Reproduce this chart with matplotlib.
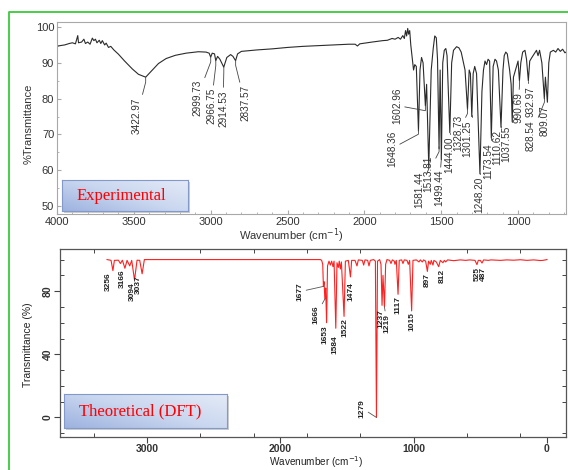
import matplotlib.pyplot as plt
import numpy as np
from matplotlib.lines import Line2D
from matplotlib.patches import Rectangle
from matplotlib.ticker import MultipleLocator, FixedLocator
from matplotlib.colors import LinearSegmentedColormap

plt.rcParams['font.family'] = ['Liberation Sans', 'DejaVu Sans']

# experimental FT-IR trace (cm-1, %T)
exp_wn = [4000, 3980, 3950, 3920, 3900, 3880, 3865, 3860, 3840, 3825,
          3815, 3800, 3785, 3770, 3760, 3750, 3740, 3725, 3715, 3705,
          3690, 3680, 3665, 3650, 3630, 3600, 3560, 3510, 3470, 3423,
          3390, 3340, 3290, 3230, 3160, 3080, 3030, 3010, 3000, 2990,
          2975, 2967, 2955, 2940, 2915, 2895, 2870, 2855, 2838, 2825,
          2800, 2700, 2600, 2500, 2400, 2300, 2200, 2100, 2060, 2045,
          2030, 1950, 1880, 1850, 1820, 1800, 1780, 1765, 1750, 1740,
          1732, 1725, 1718, 1712, 1705, 1698, 1690, 1680, 1672, 1662,
          1648, 1638, 1628, 1618, 1603, 1595, 1581, 1565, 1552, 1542,
          1532, 1524, 1514, 1507, 1499, 1490, 1480, 1470, 1462, 1444,
          1432, 1420, 1400, 1385, 1370, 1360, 1345, 1329, 1318, 1310,
          1301, 1292, 1282, 1270, 1248, 1235, 1225, 1215, 1205, 1195,
          1185, 1174, 1162, 1150, 1140, 1128, 1111, 1098, 1090, 1080,
          1070, 1055, 1045, 1038, 1030, 1020, 1010, 1000, 991, 982,
          970, 955, 945, 933, 924, 910, 895, 880, 870, 860,
          845, 829, 822, 809, 800, 790, 770, 755, 740, 725,
          710, 695, 688]
exp_t = [94.6, 94.8, 95.0, 95.4, 95.6, 95.3, 97.6, 95.6, 95.8, 96.6,
         95.4, 95.8, 95.2, 96.9, 96.2, 96.6, 95.6, 96.3, 95.4, 96.2,
         95.0, 95.5, 94.3, 94.6, 93.6, 92.4, 90.5, 88.3, 86.8, 86.0,
         87.5, 89.8, 91.2, 92.1, 92.7, 93.1, 93.0, 92.7, 91.6, 92.7,
         92.5, 90.6, 91.8, 91.0, 88.8, 91.5, 92.3, 91.8, 90.6, 92.5,
         93.2, 93.6, 93.9, 94.3, 94.6, 94.8, 95.0, 95.2, 95.2, 94.7,
         95.3, 95.8, 96.2, 96.3, 96.8, 96.6, 97.1, 96.6, 97.6, 96.8,
         99.0, 97.5, 99.6, 98.0, 99.0, 95.0, 92.0, 88.0, 89.5, 89.0,
         71.0, 88.0, 91.5, 90.0, 78.0, 84.0, 61.0, 88.0, 94.0, 97.5,
         97.0, 91.0, 66.0, 88.0, 63.0, 90.0, 93.5, 94.0, 92.0, 70.5,
         90.0, 93.5, 94.5, 94.2, 93.0, 91.0, 88.0, 77.0, 88.0, 87.0,
         75.0, 87.0, 89.0, 87.0, 59.0, 82.0, 88.0, 90.5, 89.5, 91.0,
         90.5, 69.0, 89.0, 91.0, 90.5, 88.0, 72.0, 88.0, 92.0, 93.0,
         92.5, 88.0, 84.0, 73.5, 86.0, 87.5, 89.0, 90.5, 85.0, 90.0,
         93.0, 93.5, 91.0, 85.0, 90.5, 91.5, 92.5, 93.5, 92.0, 93.5,
         90.0, 80.0, 86.0, 79.0, 90.0, 93.0, 93.5, 93.0, 94.0, 93.2,
         93.8, 92.8, 93.0]

exp_labels = ['3422.97', '2999.73', '2966.75', '2914.53', '2837.57',
              '1648.36', '1602.96', '1581.44', '1513.81', '1499.44',
              '1444.00', '1328.73', '1301.25', '1248.20', '1173.54',
              '1110.62', '1037.55', '990.69', '932.97', '828.54', '809.07']
exp_lab_wn = [3479, 3089, 2998, 2920, 2777, 1820, 1788, 1644, 1586, 1514,
              1450, 1392, 1333, 1254, 1195, 1137, 1078, 1000, 922, 916, 824]
exp_lab_t = [80.4, 85.2, 83.0, 82.4, 83.8, 71.2, 83.2, 59.5, 64.2, 60.1,
             69.3, 75.4, 74.0, 58.1, 67.6, 71.2, 72.6, 81.8, 83.5, 74.0, 78.2]

# DFT computed spectrum
dft_wn = [3300, 3270, 3256, 3245, 3215, 3200, 3185, 3166, 3150, 3130,
          3115, 3094, 3075, 3055, 3037, 3020, 1700, 1690, 1682, 1677,
          1672, 1666, 1660, 1653, 1646, 1635, 1625, 1615, 1605, 1597,
          1584, 1575, 1565, 1558, 1550, 1542, 1522, 1512, 1490, 1474,
          1465, 1440, 1425, 1415, 1385, 1375, 1365, 1345, 1335, 1325,
          1300, 1287, 1279, 1271, 1255, 1245, 1237, 1230, 1219, 1210,
          1200, 1180, 1170, 1160, 1145, 1140, 1130, 1117, 1108, 1090,
          1080, 1070, 1050, 1040, 1030, 1015, 1005, 980, 960, 950,
          935, 925, 910, 897, 888, 875, 868, 855, 848, 830,
          812, 800, 780, 770, 760, 745, 700, 650, 610, 580,
          540, 525, 515, 500, 487, 475, 440, 420, 350, 300,
          250, 200, 150, 100, 50, 30, 0]
dft_t = [100, 99.5, 93.0, 99.5, 99.6, 97.5, 99.6, 94.5, 99.5, 96.0,
         99.5, 87.0, 99.6, 99.5, 91.0, 100, 100, 99.5, 97.0, 83.0,
         86.0, 75.0, 82.0, 60.0, 96.0, 99.0, 96.5, 99.0, 95.5, 99.0,
         56.5, 98.0, 95.0, 99.0, 94.0, 98.5, 64.0, 99.0, 99.5, 89.0,
         99.5, 99.5, 96.0, 99.8, 99.5, 96.5, 99.8, 99.5, 96.0, 99.5,
         100, 99.0, 0.0, 99.0, 100, 97.0, 71.0, 90.0, 70.0, 97.0,
         100, 99.5, 97.5, 99.8, 99.0, 97.0, 99.5, 78.0, 99.5, 99.8,
         97.5, 99.8, 99.5, 97.0, 99.5, 67.5, 99.5, 99.8, 98.5, 99.8,
         98.5, 99.8, 99.0, 92.5, 99.0, 97.0, 99.5, 96.5, 99.5, 98.5,
         95.5, 99.5, 98.0, 99.5, 98.5, 99.8, 99.3, 99.8, 99.5, 99.8,
         99.5, 96.8, 99.5, 99.5, 97.8, 99.8, 99.5, 99.8, 99.5, 99.8,
         99.6, 99.9, 99.5, 99.8, 99.4, 99.5, 100]

dft_labels = ['3256', '3166', '3094', '3037', '1677', '1666', '1653', '1584',
              '1522', '1474', '1279', '1237', '1219', '1117', '1015', '897',
              '812', '525', '487']
dft_lab_wn = [3293, 3188, 3113, 3068, 1853, 1733, 1665, 1590, 1515, 1470,
              1388, 1245, 1200, 1118, 1013, 900, 788, 525, 480]
dft_lab_t = [91.8, 93.6, 85.6, 89.9, 85.6, 70.7, 58.3, 52.1, 62.6, 85.6,
             11.8, 68.8, 65.7, 76.9, 66.4, 91.2, 94.3, 95.5, 95.5]
dft_leader = ['1677', '1666', '1279', '1219']

W, H = 568, 470
fig = plt.figure(figsize=(W / 100, H / 100), dpi=100)

def fx(px):
    return px / W

def fy(py):
    return 1 - py / H

# green frame of the original figure
fig.add_artist(Line2D([fx(9), fx(9), 1], [0, fy(12), fy(12)],
                      transform=fig.transFigure, color='#3cc83c', lw=1.3))

#### top panel : experimental ####
ax1 = fig.add_axes([fx(57), fy(214), fx(566) - fx(57), fy(22) - fy(214)])
ax1.plot(exp_wn, exp_t, color='#2b2b2b', lw=0.8)
ax1.set_xlim(4000, 688)
ax1.set_ylim(47.8, 101.4)
ax1.set_xticks([4000, 3500, 3000, 2500, 2000, 1500, 1000])
ax1.xaxis.set_minor_locator(MultipleLocator(100))
ax1.set_yticks([50, 60, 70, 80, 90, 100])
ax1.yaxis.set_minor_locator(MultipleLocator(5))
ax1.tick_params(which='both', direction='in', color='#aaaaaa', labelsize=8,
                labelcolor='#333333', pad=2)
ax1.tick_params(which='major', length=3)
ax1.tick_params(which='minor', length=1.5)
for sp in ax1.spines.values():
    sp.set_color('#a8a8a8')
    sp.set_linewidth(0.8)

exp_wn_r = np.array(exp_wn[::-1])
exp_t_r = np.array(exp_t[::-1])
for lab, lx, lt in zip(exp_labels, exp_lab_wn, exp_lab_t):
    pwn = float(lab)
    pt = np.interp(pwn, exp_wn_r, exp_t_r)
    ax1.annotate(lab, xy=(pwn, pt), xytext=(lx, lt), rotation=90,
                 ha='center', va='top', fontsize=7.2, color='#333333',
                 arrowprops=dict(arrowstyle='-', color='#444444', lw=0.6,
                                 shrinkA=0, shrinkB=0,
                                 connectionstyle='arc,angleA=0,angleB=-90,armA=0,armB=5,rad=0'))

fig.text(fx(291), fy(236), 'Wavenumber (cm$^{-1}$)', ha='center', va='center',
         fontsize=8, color='#333333')
fig.text(fx(29), fy(124), '%Transmittance', rotation=90, ha='center',
         va='center', fontsize=8, color='#333333')

#### bottom panel : DFT ####
ax2 = fig.add_axes([fx(60), fy(437), fx(566) - fx(60), fy(249) - fy(437)])
ax2.plot(dft_wn, dft_t, color='#ff2020', lw=0.8)
ax2.set_xlim(3653, -143)
ax2.set_ylim(-12.4, 106.7)
ax2.set_xticks([3000, 2000, 1000, 0])
ax2.xaxis.set_minor_locator(FixedLocator([3400, 2600, 2200, 1800, 1400, 600, 200]))
ax2.set_yticks([0, 40, 80])
ax2.set_yticklabels(['0', '40', '80'], rotation=90, va='center')
ax2.yaxis.set_minor_locator(MultipleLocator(10))
ax2.tick_params(which='major', direction='out', length=4, width=0.8,
                labelsize=7.5, color='#444444', pad=1)
ax2.tick_params(which='minor', direction='in', length=3, width=0.7,
                top=True, right=True, color='#444444')
for t in ax2.get_xticklabels() + ax2.get_yticklabels():
    t.set_fontweight('bold')
    t.set_color('#333333')
for sp in ax2.spines.values():
    sp.set_color('#555555')
    sp.set_linewidth(0.9)

for lab, lx, lt in zip(dft_labels, dft_lab_wn, dft_lab_t):
    pwn = float(lab)
    kw = dict(rotation=90, ha='center', va='top', fontsize=6,
              fontweight='bold', color='#222222')
    if lab in dft_leader:
        pt = np.interp(pwn, dft_wn[::-1], dft_t[::-1])
        ax2.annotate(lab, xy=(pwn, pt), xytext=(lx, lt),
                     arrowprops=dict(arrowstyle='-', color='#555555', lw=0.6,
                                     shrinkA=0, shrinkB=0), **kw)
    else:
        ax2.text(lx, lt, lab, **kw)

fig.text(fx(316), fy(469.5), 'Wavenumber (cm$^{-1}$)', ha='center',
         va='bottom', fontsize=7.2, color='#222222')
fig.text(fx(28), fy(345), 'Transmittance (%)', rotation=90, ha='center',
         va='center', fontsize=7.5, color='#222222')

#### gradient label boxes ####
box_cmap = LinearSegmentedColormap.from_list('box', ['#9db2df', '#c9d6ef', '#e4ebf7'])

def label_box(x0, y0, x1, y1, text):
    fig.add_artist(Rectangle((fx(x0 + 2), fy(y1 + 2)), fx(x1) - fx(x0),
                             fy(y0) - fy(y1), transform=fig.transFigure,
                             facecolor='#b8b8b8', edgecolor='none', alpha=0.7,
                             zorder=0.5))
    bax = fig.add_axes([fx(x0), fy(y1), fx(x1) - fx(x0), fy(y0) - fy(y1)])
    bax.set_zorder(1)
    g = np.linspace(0, 1, 64)
    grad = 0.55 * g[None, :] + 0.45 * g[::-1, None]
    bax.imshow(grad, cmap=box_cmap, aspect='auto', extent=(0, 1, 0, 1))
    bax.set_xticks([])
    bax.set_yticks([])
    for sp in bax.spines.values():
        sp.set_color('#8399c9')
        sp.set_linewidth(0.8)
    bax.text(0.47, 0.5, text, transform=bax.transAxes, ha='center',
             va='center', color='#ff0000', fontsize=12,
             family='Liberation Serif')

label_box(62, 180, 188, 211, 'Experimental')
label_box(64, 394, 227, 428, 'Theoretical (DFT)')

fig.savefig('out.png', dpi=100)
